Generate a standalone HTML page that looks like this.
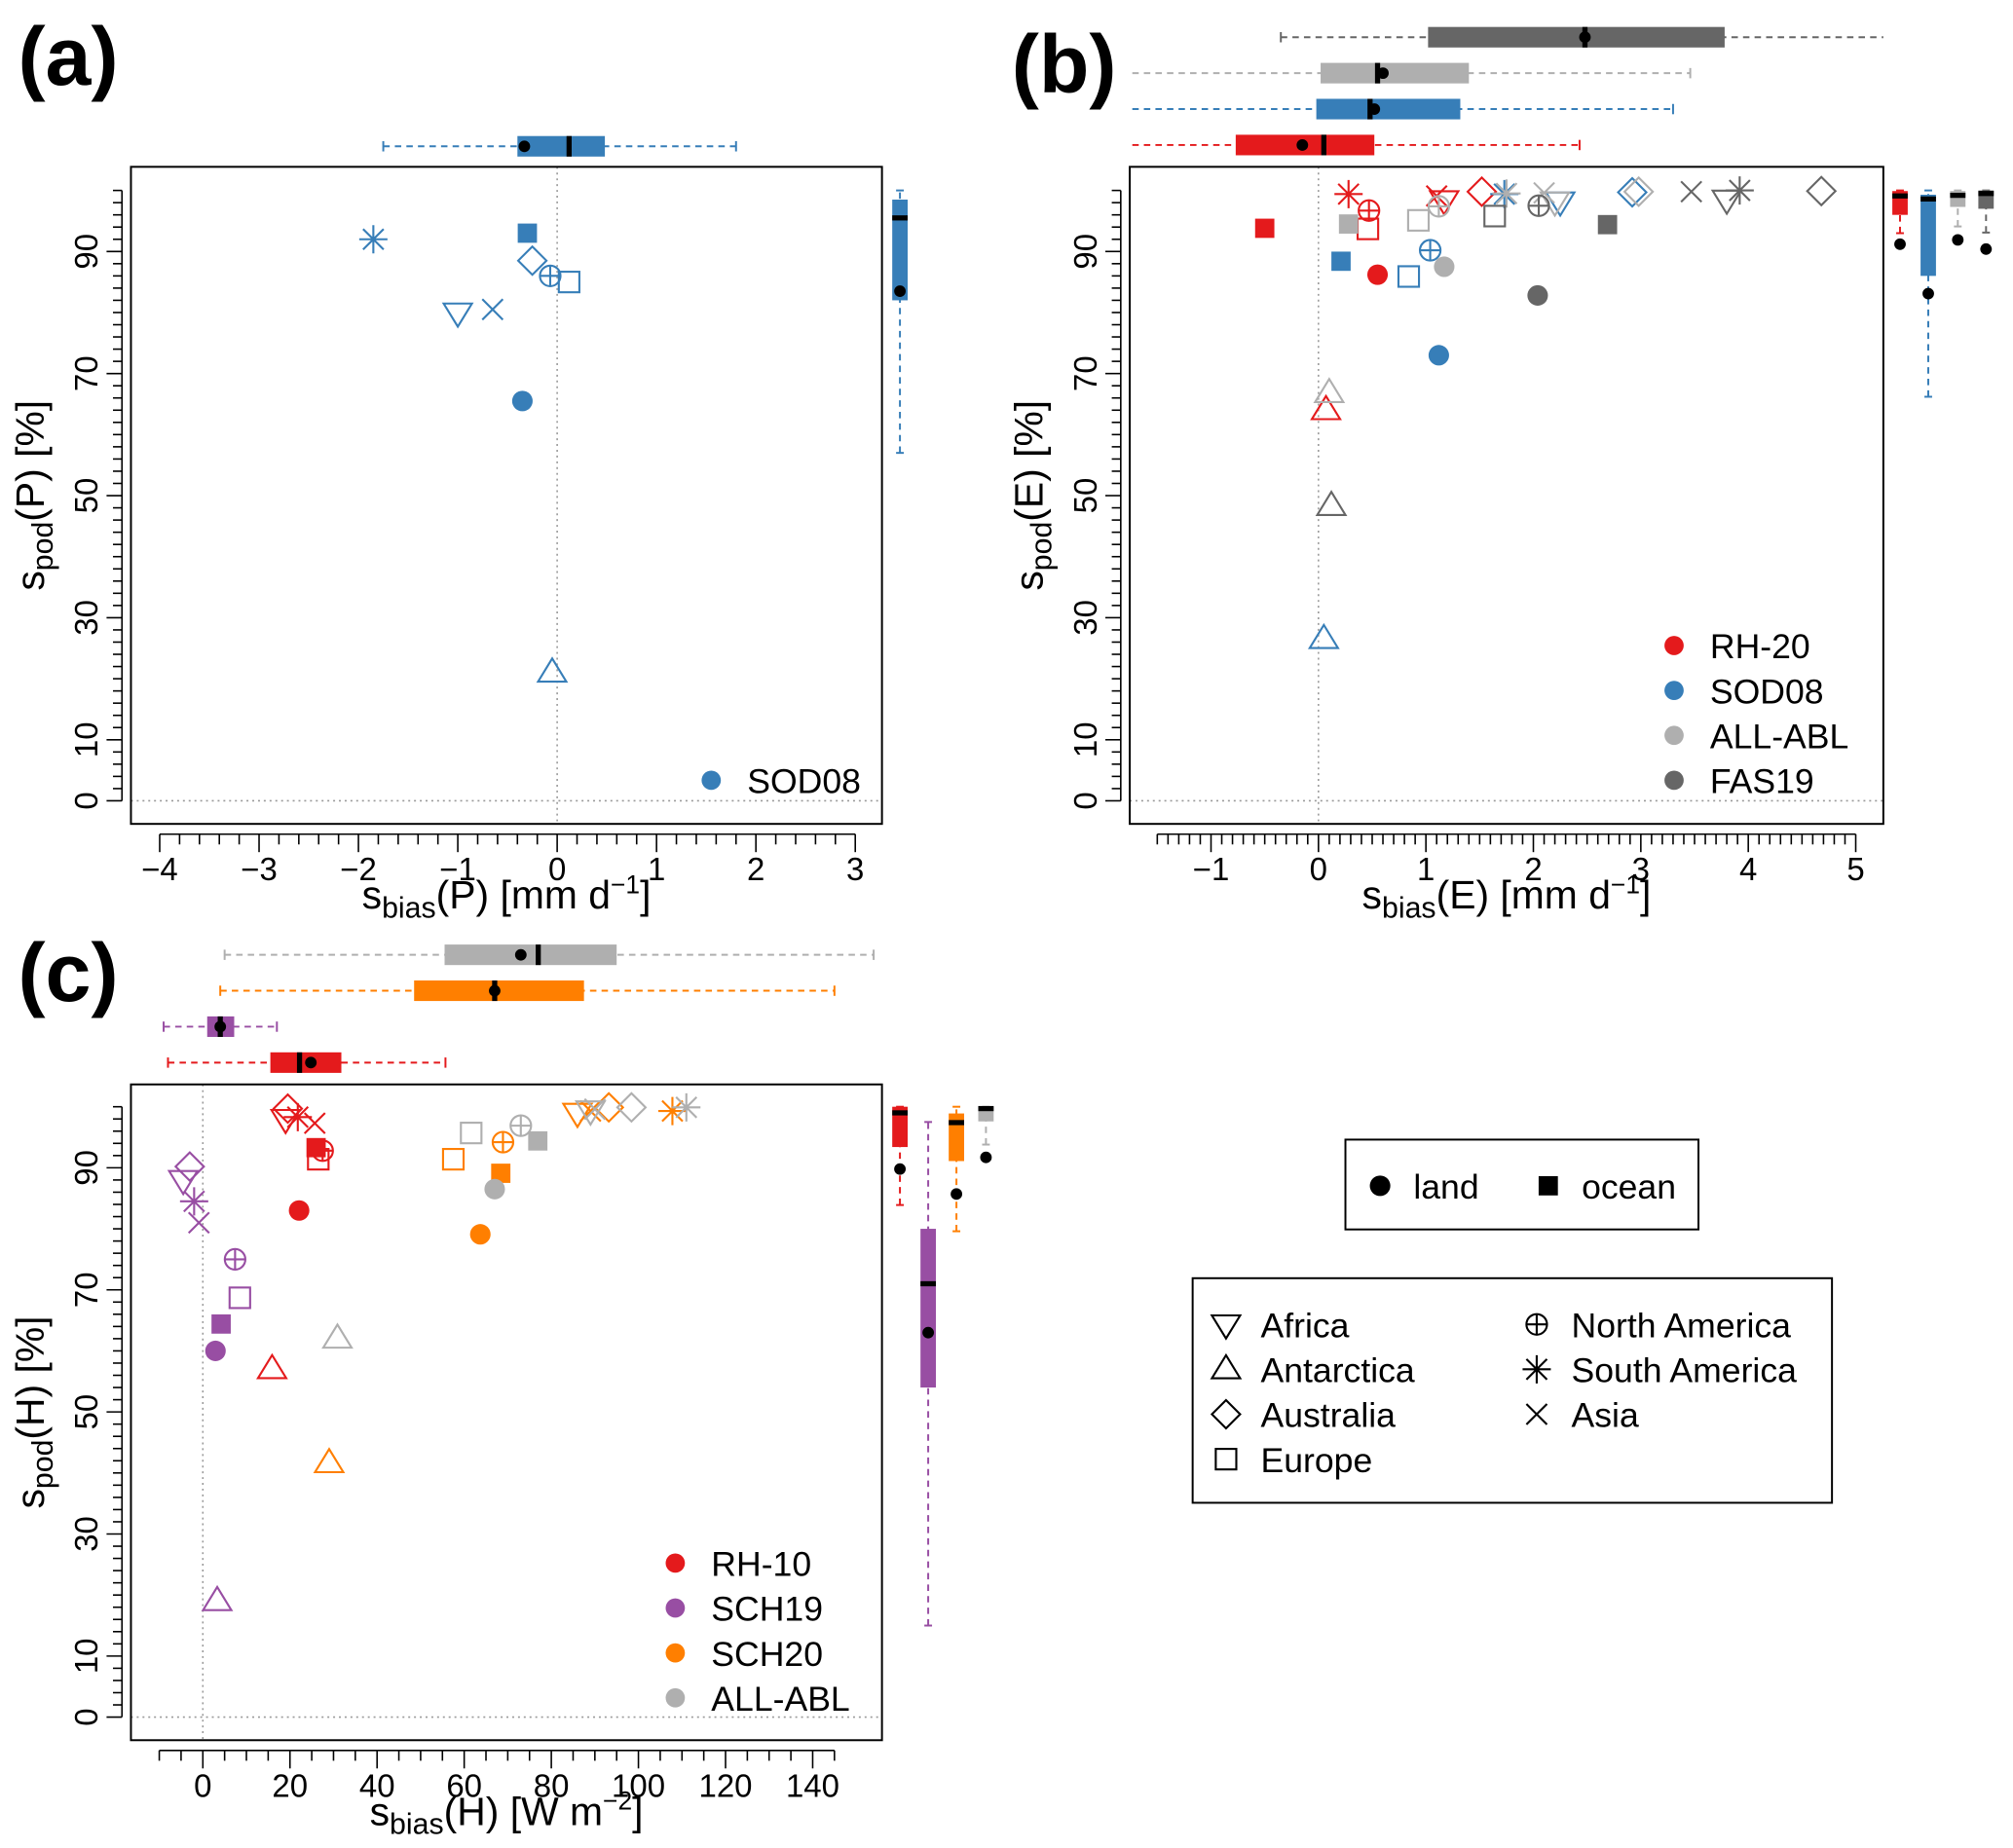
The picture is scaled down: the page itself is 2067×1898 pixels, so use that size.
<!DOCTYPE html>
<html><head><meta charset="utf-8"><style>
html,body{margin:0;padding:0;background:#fff}
svg{display:block}
text{font-family:"Liberation Sans",sans-serif}
</style></head><body>
<svg id="fig" xmlns="http://www.w3.org/2000/svg" width="2067" height="1898" viewBox="0 0 1568 1440" preserveAspectRatio="none">
<rect width="1568" height="1440" fill="#fff"/>
</svg>
<script>
// ---------- DATA ----------
// Panel a (SOD08)
const a_shapes = ["asterisk","ocean","diamond","pluscircle","sqopen","down","x","land","up"];
const a_sod08_x = [-1.85,-0.3,-0.25,-0.07,0.12,-1.0,-0.65,-0.35,-0.05];
const a_sod08_y = [92,93,88.5,86,85,80,80.5,65.5,21];
const a_box = {lo:-1.75,q1:-0.4,med:0.12,q3:0.48,hi:1.8,dot:-0.33};
const a_rbox = {lo:57,q1:82,med:95.5,q3:98.5,hi:100,dot:83.5};
const a_xticks = [-4,-3,-2,-1,0,1,2,3];
// Panel b
const b_rh20_shapes = ["asterisk","pluscircle","sqopen","ocean","land","x","down","diamond","up"];
const b_rh20_x = [0.28,0.47,0.46,-0.5,0.55,1.1,1.17,1.52,0.07];
const b_rh20_y = [99.4,96.7,93.7,93.8,86.2,99.1,98.4,99.8,64];
const b_sod08_shapes = ["ocean","sqopen","pluscircle","land","asterisk","down","diamond","up"];
const b_sod08_x = [0.21,0.84,1.04,1.12,1.73,2.25,2.92,0.05];
const b_sod08_y = [88.4,85.9,90.2,73,99.4,98.2,99.7,26.5];
const b_allabl_shapes = ["ocean","sqopen","pluscircle","land","asterisk","x","down","diamond","up"];
const b_allabl_x = [0.28,0.93,1.12,1.17,1.75,2.1,2.2,2.98,0.1];
const b_allabl_y = [94.5,95.1,97.4,87.5,99.5,99.6,98.2,99.8,66.8];
const b_fas19_shapes = ["sqopen","pluscircle","land","ocean","x","down","asterisk","diamond","up"];
const b_fas19_x = [1.64,2.05,2.04,2.69,3.47,3.8,3.92,4.68,0.12];
const b_fas19_y = [95.8,97.5,82.8,94.4,99.8,98.5,100,99.9,48.3];
const b_boxes = [
 {lo:-0.35,q1:1.02,med:2.48,q3:3.78,hi:5.27,dot:2.48},
 {lo:-1.9,q1:0.02,med:0.55,q3:1.4,hi:3.46,dot:0.6},
 {lo:-1.9,q1:-0.02,med:0.48,q3:1.32,hi:3.3,dot:0.52},
 {lo:-1.9,q1:-0.77,med:0.05,q3:0.52,hi:2.43,dot:-0.15}];
const b_rboxes = [
 {lo:93,q1:96,med:99.1,q3:99.9,hi:100,dot:91.2},
 {lo:66.2,q1:86,med:98.6,q3:99.3,hi:100,dot:83.1},
 {lo:94.1,q1:97.3,med:99.2,q3:99.9,hi:100,dot:91.9},
 {lo:93.1,q1:97,med:99.5,q3:100,hi:100,dot:90.4}];
const b_xticks = [-1,0,1,2,3,4,5];
// Panel c
const c_rh10_shapes = ["diamond","down","asterisk","x","ocean","pluscircle","sqopen","land","up"];
const c_rh10_x = [19.5,19,21.8,25.7,26,27.5,26.5,22.1,15.9];
const c_rh10_y = [99.7,98,98.3,97.3,93.3,92.8,91.4,83,57];
const c_sch19_shapes = ["diamond","down","asterisk","x","pluscircle","sqopen","ocean","land","up"];
const c_sch19_x = [-3,-4.5,-2,-0.9,7.4,8.5,4.2,2.9,3.3];
const c_sch19_y = [90.2,88,84.5,81,75,68.7,64.4,60,19];
const c_sch20_shapes = ["sqopen","pluscircle","ocean","land","down","x","diamond","asterisk","up"];
const c_sch20_x = [57.5,68.9,68.4,63.7,86,89,93.2,107.8,29];
const c_sch20_y = [91.4,94.2,89.1,79.1,99,99.3,99.9,99.3,41.6];
const c_allabl_shapes = ["sqopen","pluscircle","ocean","land","down","x","diamond","asterisk","up"];
const c_allabl_x = [61.6,73,76.9,67,89,90,98.4,111,30.9];
const c_allabl_y = [95.7,96.9,94.4,86.5,99.4,99.6,99.9,99.9,62];
const c_boxes = [
 {lo:5,q1:55.5,med:77,q3:95,hi:154,dot:73},
 {lo:4,q1:48.5,med:67,q3:87.5,hi:145,dot:67},
 {lo:-9,q1:1,med:4,q3:7.2,hi:17,dot:4},
 {lo:-8,q1:15.5,med:22.2,q3:31.8,hi:55.7,dot:24.8}];
const c_rboxes = [
 {lo:83.9,q1:93.4,med:99,q3:100,hi:100,dot:89.8},
 {lo:15,q1:54,med:71,q3:80,hi:97.5,dot:63},
 {lo:79.6,q1:91.1,med:97.4,q3:98.9,hi:100,dot:85.7},
 {lo:93.8,q1:97.6,med:99.7,q3:100,hi:100,dot:91.7}];
const c_xticks = [0,20,40,60,80,100,120,140];
const yticks = [0,10,30,50,70,90];

// ---------- DRAWING ----------
const NS="http://www.w3.org/2000/svg";
const svg=document.getElementById('fig');
function el(tag,attrs,parent){const e=document.createElementNS(NS,tag);for(const k in attrs)e.setAttribute(k,attrs[k]);(parent||svg).appendChild(e);return e;}
const RED="#E41A1C",BLUE="#377EB8",LG="#AFAFAF",DG="#666666",PUR="#984EA3",ORA="#FF7F00";

function marker(g,shape,x,y,col){
  const w=1.6;
  if(shape==="land"){el('circle',{cx:x,cy:y,r:8,fill:col},g);}
  else if(shape==="ocean"){el('rect',{x:x-7.5,y:y-7.5,width:15,height:15,fill:col},g);}
  else if(shape==="sqopen"){el('rect',{x:x-8,y:y-8,width:16,height:16,fill:"none",stroke:col,"stroke-width":w},g);}
  else if(shape==="down"){el('polygon',{points:`${x-11},${y-7} ${x+11},${y-7} ${x},${y+11}`,fill:"none",stroke:col,"stroke-width":w},g);}
  else if(shape==="up"){el('polygon',{points:`${x-11},${y+7} ${x+11},${y+7} ${x},${y-11}`,fill:"none",stroke:col,"stroke-width":w},g);}
  else if(shape==="diamond"){el('polygon',{points:`${x},${y-11} ${x+11},${y} ${x},${y+11} ${x-11},${y}`,fill:"none",stroke:col,"stroke-width":w},g);}
  else if(shape==="pluscircle"){el('circle',{cx:x,cy:y,r:8,fill:"none",stroke:col,"stroke-width":w},g);el('path',{d:`M${x-8},${y}H${x+8}M${x},${y-8}V${y+8}`,stroke:col,"stroke-width":w},g);}
  else if(shape==="asterisk"){el('path',{d:`M${x-11},${y}H${x+11}M${x},${y-11}V${y+11}M${x-8},${y-8}L${x+8},${y+8}M${x-8},${y+8}L${x+8},${y-8}`,stroke:col,"stroke-width":w},g);}
  else if(shape==="x"){el('path',{d:`M${x-8},${y-8}L${x+8},${y+8}M${x-8},${y+8}L${x+8},${y-8}`,stroke:col,"stroke-width":w},g);}
}

function panel(P){
  const g=el('g',{});
  
  
  const X=v=>P.x0+(v-P.xv0)*P.xs, Y=v=>P.y0-v*P.ys;
  el('line',{x1:X(0),x2:X(0),y1:P.top,y2:P.bot,stroke:"#999","stroke-width":1.2,"stroke-dasharray":"1.5,3"},g);
  el('line',{x1:P.left,x2:P.right,y1:Y(0),y2:Y(0),stroke:"#999","stroke-width":1.2,"stroke-dasharray":"1.5,3"},g);
  const fr=el('rect',{x:P.left,y:P.top,width:P.right-P.left,height:P.bot-P.top,fill:"none",stroke:"#000","stroke-width":1.5},g);
  
  
  const ya=el('g',{},g);
  
  
  const ax=P.left-7;
  el('line',{x1:ax,x2:ax,y1:Y(0),y2:Y(100),stroke:"#000","stroke-width":1.2},ya);
  for(let v=0;v<=100;v+=2){const maj=yticks.includes(v);el('line',{x1:ax,x2:ax-(maj?12:7),y1:Y(v),y2:Y(v),stroke:"#000","stroke-width":1.2},ya);}
  yticks.forEach(v=>{const t=el('text',{x:0,y:0,"font-size":25,"text-anchor":"middle",transform:`translate(${ax-19},${Y(v)}) rotate(-90)`},ya);t.textContent=v;
    
    });
  const xa=el('g',{},g);
  
  
  const ay=P.bot+8;
  el('line',{x1:X(P.xmin),x2:X(P.xmax),y1:ay,y2:ay,stroke:"#000","stroke-width":1.2},xa);
  for(let i=0;;i++){const v=P.xmin+i*P.minor;if(v>P.xmax+1e-9)break;const maj=Math.abs(v/P.major-Math.round(v/P.major))<1e-6;
    el('line',{x1:X(v),x2:X(v),y1:ay,y2:ay+(maj?14:8),stroke:"#000","stroke-width":1.2},xa);}
  P.xticks.forEach(v=>{const t=el('text',{x:X(v),y:ay+36,"font-size":25,"text-anchor":"middle"},xa);t.textContent=(v<0?"\u2212"+(-v):v);
    
    });
  const xt=el('text',{x:(P.left+P.right)/2,y:P.bot+66,"font-size":31,"text-anchor":"middle"},g);
  
  
  xt.innerHTML=`s<tspan font-size="23" dy="7">bias</tspan><tspan dy="-7">(${P.v}) [${P.unit}</tspan><tspan font-size="20" dy="-12">${P.sup}</tspan><tspan dy="12">]</tspan>`;
  const yt=el('text',{x:0,y:0,"font-size":31,"text-anchor":"middle",transform:`translate(${P.left-68},${(P.top+P.bot)/2}) rotate(-90)`},g);
  
  
  yt.innerHTML=`s<tspan font-size="23" dy="7">pod</tspan><tspan dy="-7">(${P.v}) [%]</tspan>`;
  const pl=el('text',{x:P.lx,y:P.ly,"font-size":64,"font-weight":"bold"},g);pl.textContent=P.label;
  
  
  P.series.forEach(s=>{
    const sg=el('g',{},g);
    
    
    s.x.forEach((xv,i)=>{marker(sg,s.shapes[i],X(xv),Y(s.y[i]),s.col);});
  });
  P.boxes.forEach((b,i)=>{
    const bg=el('g',{},g);
    
    
    const yy=P.boxY[i],c=P.series[P.boxOrder[i]].col,h=8;
    const lo=Math.max(X(b.lo),P.left+2),hi=Math.min(X(b.hi),P.right);
    el('line',{x1:lo,x2:hi,y1:yy,y2:yy,stroke:c,"stroke-width":1.5,"stroke-dasharray":"5,4"},bg);
    if(X(b.lo)>=P.left)el('line',{x1:X(b.lo),x2:X(b.lo),y1:yy-4,y2:yy+4,stroke:c,"stroke-width":1.5},bg);
    if(X(b.hi)<=P.right)el('line',{x1:X(b.hi),x2:X(b.hi),y1:yy-4,y2:yy+4,stroke:c,"stroke-width":1.5},bg);
    el('rect',{x:X(b.q1),y:yy-h,width:X(b.q3)-X(b.q1),height:2*h,fill:c},bg);
    el('rect',{x:X(b.med)-2,y:yy-h,width:4,height:2*h,fill:"#000"},bg);
    el('circle',{cx:X(b.dot),cy:yy,r:4.5,fill:"#000"},bg);
  });
  P.rboxes.forEach((b,i)=>{
    const bg=el('g',{},g);
    
    
    const xx=P.rboxX[i],c=P.series[P.rOrder[i]].col,w=P.rw;
    el('line',{x1:xx,x2:xx,y1:Y(b.lo),y2:Y(b.hi),stroke:c,"stroke-width":1.5,"stroke-dasharray":"5,4"},bg);
    el('line',{x1:xx-3,x2:xx+3,y1:Y(b.lo),y2:Y(b.lo),stroke:c,"stroke-width":1.5},bg);
    el('line',{x1:xx-3,x2:xx+3,y1:Y(b.hi),y2:Y(b.hi),stroke:c,"stroke-width":1.5},bg);
    el('rect',{x:xx-w,y:Y(b.q3),width:2*w,height:Y(b.q1)-Y(b.q3),fill:c},bg);
    el('rect',{x:xx-w,y:Y(b.med)-2,width:2*w,height:4,fill:"#000"},bg);
    el('circle',{cx:xx,cy:Y(b.dot),r:4.5,fill:"#000"},bg);
  });
  P.legend.forEach((s,i)=>{
    const lg=el('g',{},g);
    
    
    const ly=P.legY+i*35;
    el('circle',{cx:P.legX,cy:ly,r:7.5,fill:s.col},lg);
    const t=el('text',{x:P.legX+28,y:ly+10,"font-size":27},lg);t.textContent=s.name;
  });
}

const aSeries=[{name:"SOD08",col:BLUE,x:a_sod08_x,y:a_sod08_y,shapes:a_shapes}];
panel({name:"panel-a",label:"(a)",lx:14,ly:66,left:102,right:687,top:130,bot:642,x0:434,xv0:0,xs:77.4,y0:624,ys:4.756,
  xmin:-4,xmax:3,minor:0.2,major:1,xticks:a_xticks,v:"P",unit:"mm d",sup:"\u22121",
  series:aSeries,boxes:[a_box],boxY:[114],boxOrder:[0],rboxes:[a_rbox],rboxX:[701],rOrder:[0],rw:6,
  legend:aSeries,legX:554,legY:608});
const bSeries=[{name:"RH-20",col:RED,x:b_rh20_x,y:b_rh20_y,shapes:b_rh20_shapes},
 {name:"SOD08",col:BLUE,x:b_sod08_x,y:b_sod08_y,shapes:b_sod08_shapes},
 {name:"ALL-ABL",col:LG,x:b_allabl_x,y:b_allabl_y,shapes:b_allabl_shapes},
 {name:"FAS19",col:DG,x:b_fas19_x,y:b_fas19_y,shapes:b_fas19_shapes}];
panel({name:"panel-b",label:"(b)",lx:788,ly:72,left:880,right:1467,top:130,bot:642,x0:1027,xv0:0,xs:83.7,y0:624,ys:4.756,
  xmin:-1.5,xmax:5,minor:0.1,major:1,xticks:b_xticks,v:"E",unit:"mm d",sup:"\u22121",
  series:bSeries,boxes:b_boxes,boxY:[29,57,85,113],boxOrder:[3,2,1,0],rboxes:b_rboxes,rboxX:[1480,1502,1525,1547],rOrder:[0,1,2,3],rw:6,
  legend:bSeries,legX:1304,legY:503});
const cSeries=[{name:"RH-10",col:RED,x:c_rh10_x,y:c_rh10_y,shapes:c_rh10_shapes},
 {name:"SCH19",col:PUR,x:c_sch19_x,y:c_sch19_y,shapes:c_sch19_shapes},
 {name:"SCH20",col:ORA,x:c_sch20_x,y:c_sch20_y,shapes:c_sch20_shapes},
 {name:"ALL-ABL",col:LG,x:c_allabl_x,y:c_allabl_y,shapes:c_allabl_shapes}];
panel({name:"panel-c",label:"(c)",lx:14,ly:780,left:102,right:687,top:845,bot:1356,x0:158,xv0:0,xs:3.393,y0:1338,ys:4.756,
  xmin:-10,xmax:145,minor:5,major:20,xticks:c_xticks,v:"H",unit:"W m",sup:"\u22122",
  series:cSeries,boxes:c_boxes,boxY:[744,772,800,828],boxOrder:[3,2,1,0],rboxes:c_rboxes,rboxX:[701,723,745,768],rOrder:[0,1,2,3],rw:6,
  legend:cSeries,legX:526,legY:1218});

const lo=el('g',{});


el('rect',{x:1048,y:888,width:275,height:70,fill:"none",stroke:"#000","stroke-width":1.5},lo);
marker(lo,"land",1075,924,"#000");
let t=el('text',{x:1101,y:934,"font-size":27},lo);t.textContent="land";
marker(lo,"ocean",1206,924,"#000");
t=el('text',{x:1232,y:934,"font-size":27},lo);t.textContent="ocean";
const regNames=["Africa","Antarctica","Australia","Europe","North America","South America","Asia"];
const regShapes=["down","up","diamond","sqopen","pluscircle","asterisk","x"];
const rg=el('g',{});


el('rect',{x:929,y:996,width:498,height:175,fill:"none",stroke:"#000","stroke-width":1.5},rg);
regNames.forEach((n,i)=>{
  const col=i<4?0:1,row=i<4?i:i-4;
  const sx=col?1197:955,sy=1032+row*35;
  const e=el('g',{},rg);
  
  
  marker(e,regShapes[i],sx,sy,"#000");
  const tt=el('text',{x:sx+27,y:sy+10,"font-size":27},e);tt.textContent=n;
});
</script>
</body></html>
